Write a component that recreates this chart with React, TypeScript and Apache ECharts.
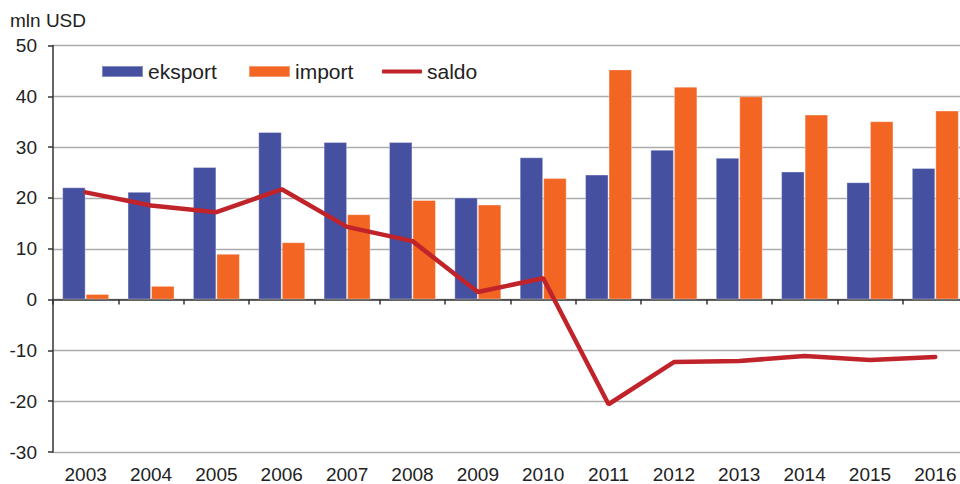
import React, { useEffect, useRef } from "react";
import * as echarts from "echarts";

const years = ["2003", "2004", "2005", "2006", "2007", "2008", "2009", "2010", "2011", "2012", "2013", "2014", "2015", "2016"];
const eksport = [22.1, 21.2, 26.1, 33.0, 31.0, 31.0, 20.1, 28.0, 24.6, 29.5, 27.9, 25.2, 23.1, 25.9];
const importVals = [1.1, 2.7, 9.0, 11.3, 16.8, 19.6, 18.7, 23.9, 45.3, 41.9, 40.0, 36.4, 35.1, 37.2];
const saldo = [21.1, 18.5, 17.2, 21.7, 14.3, 11.5, 1.5, 4.2, -20.6, -12.3, -12.1, -11.1, -11.9, -11.3];
const yTicks = { min: -30, max: 50, interval: 10 };

const FONT = "'Liberation Sans', Arial, sans-serif";
const TEXT = "#222222";
const BLUE = "#4650A0";
const ORANGE = "#F26522";
const RED = "#C1232B";

export default function App() {
  const ref = useRef<HTMLDivElement>(null);
  useEffect(() => {
    if (!ref.current) return;
    const chart = echarts.init(ref.current, undefined, { renderer: "svg" });
    const legendBase = {
      top: 61,
      padding: 0,
      selectedMode: false,
      textStyle: { fontFamily: FONT, fontSize: 21, color: TEXT },
    };
    chart.setOption({
      animation: false,
      backgroundColor: "#ffffff",
      textStyle: { fontFamily: FONT },
      grid: { left: 53, width: 915, top: 45.5, bottom: 31.5, containLabel: false },
      legend: [
        { ...legendBase, left: 101, itemWidth: 41, itemHeight: 11, data: [{ name: "eksport", icon: "rect" }] },
        { ...legendBase, left: 248, itemWidth: 41, itemHeight: 11, data: [{ name: "import", icon: "rect" }] },
        { ...legendBase, left: 382, itemWidth: 40, itemHeight: 4, data: [{ name: "saldo", icon: "roundRect" }] },
      ],
      graphic: [
        {
          type: "text",
          left: 10,
          top: 11,
          style: { text: "mln USD", fontFamily: FONT, fontSize: 19, fill: TEXT },
        },
      ],
      xAxis: [
        {
          type: "category",
          data: years,
          position: "bottom",
          boundaryGap: true,
          axisLine: { show: true, onZero: true, lineStyle: { color: "#333333", width: 1.5 } },
          axisTick: { show: true, alignWithLabel: false, length: 5, inside: false, lineStyle: { color: "#333333", width: 1.5 } },
          axisLabel: { show: false },
          splitLine: { show: false },
        },
        {
          type: "category",
          data: years,
          position: "bottom",
          boundaryGap: true,
          axisLine: { show: false, onZero: false },
          axisTick: { show: false },
          axisLabel: { show: true, fontFamily: FONT, fontSize: 19, color: TEXT, margin: 13 },
          splitLine: { show: false },
        },
      ],
      yAxis: {
        type: "value",
        min: yTicks.min,
        max: yTicks.max,
        interval: yTicks.interval,
        axisLine: { show: true, lineStyle: { color: "#333333", width: 1.5 } },
        axisTick: { show: true, length: 5, inside: false, lineStyle: { color: "#333333", width: 1.5 } },
        axisLabel: { fontFamily: FONT, fontSize: 19, color: TEXT, margin: 16 },
        splitLine: { show: true, lineStyle: { color: "#ababab", width: 1.3 } },
      },
      series: [
        {
          name: "eksport",
          type: "bar",
          xAxisIndex: 0,
          data: eksport,
          barWidth: 23.5,
          barGap: "0%",
          itemStyle: { color: BLUE, borderColor: "rgba(255,255,255,0.35)", borderWidth: 1 },
          z: 2,
        },
        {
          name: "import",
          type: "bar",
          xAxisIndex: 0,
          data: importVals,
          barWidth: 23.5,
          barGap: "0%",
          itemStyle: { color: ORANGE, borderColor: "rgba(255,255,255,0.35)", borderWidth: 1 },
          z: 2,
        },
        {
          name: "saldo",
          type: "line",
          xAxisIndex: 0,
          data: saldo,
          symbol: "none",
          showSymbol: false,
          lineStyle: { color: RED, width: 4.5, cap: "round" },
          itemStyle: { color: RED },
          z: 5,
        },
      ],
    });
    return () => chart.dispose();
  }, []);
  return (
    <div style={{ position: "fixed", left: 0, top: 0, width: 960, height: 484, overflow: "hidden", background: "#fff" }}>
      <div ref={ref} style={{ width: 970, height: 484 }} />
    </div>
  );
}
